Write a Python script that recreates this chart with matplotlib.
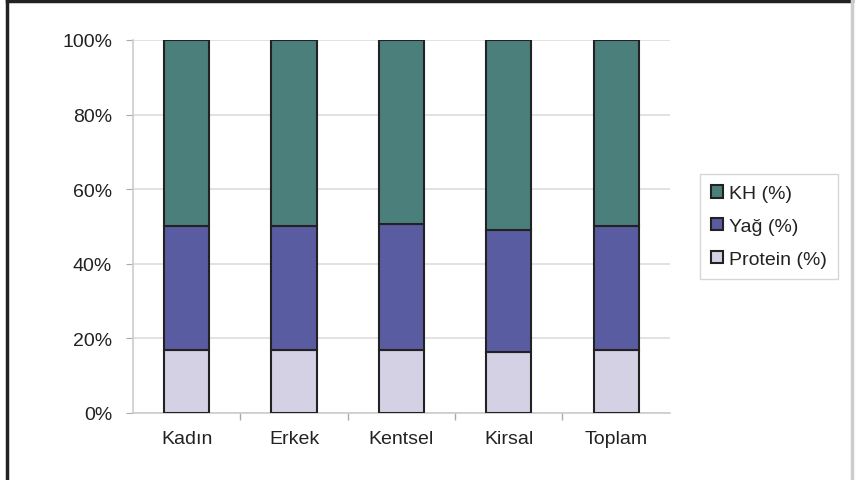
import matplotlib.pyplot as plt
import numpy as np
from matplotlib.lines import Line2D

plt.rcParams['font.family'] = ['Liberation Sans', 'DejaVu Sans']

# veri
kategoriler = ['Kadın', 'Erkek', 'Kentsel', 'Kirsal', 'Toplam']
protein = [16.8, 16.8, 16.8, 16.4, 16.8]
yag = [33.2, 33.2, 33.8, 32.6, 33.2]
kh = [50.0, 50.0, 49.4, 51.0, 50.0]

renk_kh = '#4a7f7b'
renk_yag = '#5a5ca2'
renk_protein = '#d5d1e5'
yazi = '#222222'

fig = plt.figure(figsize=(8.56, 4.81), dpi=100)
ax = fig.add_axes([0.1554, 0.1393, 0.627, 0.7755])

x = np.arange(len(kategoriler))
w = 0.42
ax.bar(x, protein, w, color=renk_protein, edgecolor='#222222', linewidth=1.5, label='Protein (%)', zorder=3)
ax.bar(x, yag, w, bottom=protein, color=renk_yag, edgecolor='#222222', linewidth=1.5, label='Yağ (%)', zorder=3)
alt = np.array(protein) + np.array(yag)
ax.bar(x, kh, w, bottom=alt, color=renk_kh, edgecolor='#222222', linewidth=1.5, label='KH (%)', zorder=3)

ax.set_xlim(-0.5, len(kategoriler) - 0.5)
ax.set_ylim(0, 100)
ax.set_yticks([0, 20, 40, 60, 80, 100])
ax.set_yticklabels(['0%', '20%', '40%', '60%', '80%', '100%'], fontsize=14, color=yazi)
ax.set_xticks(x)
ax.set_xticklabels(kategoriler, fontsize=14, color=yazi)
ax.tick_params(axis='x', length=0, pad=12)
ax.set_xticks(np.arange(0.5, len(kategoriler) - 0.5), minor=True)
ax.tick_params(axis='x', which='minor', length=5, color='#aaaaaa', width=1)
ax.tick_params(axis='y', length=5, color='#aaaaaa', pad=10)
ax.grid(axis='y', color='#dddddd', linewidth=1.2, zorder=0)

for s in ['top', 'right']:
    ax.spines[s].set_visible(False)
ax.spines['left'].set_color('#cccccc')
ax.spines['bottom'].set_color('#cccccc')
ax.spines['left'].set_linewidth(1.2)
ax.spines['bottom'].set_linewidth(1.2)

h, l = ax.get_legend_handles_labels()
leg = fig.legend(h[::-1], l[::-1], loc='center left', bbox_to_anchor=(0.806, 0.527),
                 fontsize=14, frameon=True, fancybox=False, edgecolor='#cccccc',
                 handlelength=0.6, handleheight=0.6, handletextpad=0.3,
                 labelspacing=0.8, borderpad=0.6)
for t in leg.get_texts():
    t.set_color(yazi)

# cerceve
fig.add_artist(Line2D([0.008, 0.008], [0, 0.995], transform=fig.transFigure, color='#222222', linewidth=2.5))
fig.add_artist(Line2D([0.008, 0.995], [0.995, 0.995], transform=fig.transFigure, color='#222222', linewidth=2.5))
fig.add_artist(Line2D([0.995, 0.995], [0, 0.995], transform=fig.transFigure, color='#cccccc', linewidth=2.5))

fig.savefig('out.png', dpi=100)
